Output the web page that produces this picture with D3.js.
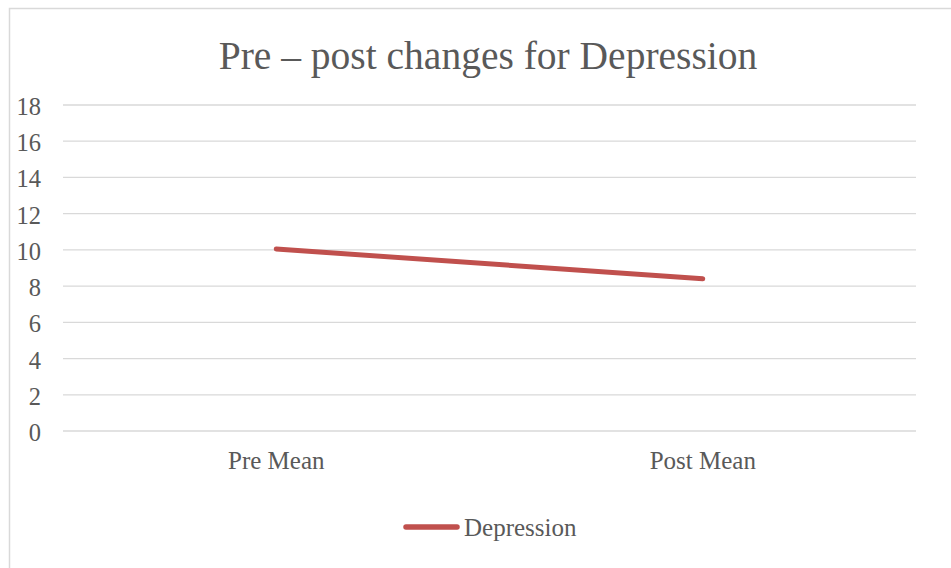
<!DOCTYPE html>
<html>
<head>
<meta charset="utf-8">
<script src="https://cdn.jsdelivr.net/npm/d3@7/dist/d3.min.js"></script>
<style>
  html, body { margin: 0; padding: 0; background: #fff; }
  svg { display: block; }
  text { font-family: "Liberation Serif", "Times New Roman", serif; fill: #595959; }
</style>
</head>
<body>
<svg id="chart" width="951" height="568"></svg>
<script>
const categories = ["Pre Mean", "Post Mean"];
const seriesName = "Depression";
const depression = [10.05, 8.4];
const yTicks = [0, 2, 4, 6, 8, 10, 12, 14, 16, 18];
const titleText = "Pre \u2013 post changes for Depression";

const W = 951, H = 568;
const FONT = '"Liberation Serif", "Times New Roman", serif';
const svg = d3.select("#chart");

// chart border (Excel chart area)
svg.append("path")
  .attr("d", `M9.5,${H} V8.5 H${W}`)
  .attr("fill", "none").attr("stroke", "#d9d9d9").attr("stroke-width", 1.5);

const plot = { left: 63, right: 916, top: 105, bottom: 431 };

const x = d3.scaleBand().domain(categories).range([plot.left, plot.right]);
const y = d3.scaleLinear().domain([0, 18]).range([plot.bottom, plot.top]);

// gridlines
svg.append("g").selectAll("line").data(yTicks).join("line")
  .attr("x1", plot.left).attr("x2", plot.right)
  .attr("y1", d => y(d)).attr("y2", d => y(d))
  .attr("stroke", "#d9d9d9").attr("stroke-width", 1.3);

// y axis labels
const yAxis = d3.axisLeft(y).tickValues(yTicks).tickSize(0).tickPadding(0);
const gy = svg.append("g").attr("transform", `translate(41,0)`).call(yAxis);
gy.select(".domain").remove();
gy.selectAll("text").attr("font-size", 24.5).attr("fill", "#595959")
  .attr("dy", 9.5).style("font-family", FONT);

// x axis labels
const xAxis = d3.axisBottom(x).tickSize(0).tickPadding(0);
const gx = svg.append("g").attr("transform", `translate(0,${plot.bottom})`).call(xAxis);
gx.select(".domain").remove();
gx.selectAll("text").attr("font-size", 25).attr("fill", "#595959")
  .attr("y", 38.3).attr("dy", 0).style("font-family", FONT);

// line
const line = d3.line()
  .x((d, i) => x(categories[i]) + x.bandwidth() / 2)
  .y(d => y(d));
svg.append("path").datum(depression)
  .attr("d", line)
  .attr("fill", "none").attr("stroke", "#C0504D")
  .attr("stroke-width", 5).attr("stroke-linecap", "round");

// title
svg.append("text")
  .attr("x", 488).attr("y", 69)
  .attr("text-anchor", "middle")
  .attr("font-size", 39.5)
  .text(titleText);

// legend
svg.append("line")
  .attr("x1", 406).attr("x2", 457).attr("y1", 527).attr("y2", 527)
  .attr("stroke", "#C0504D").attr("stroke-width", 5.5).attr("stroke-linecap", "round");
svg.append("text")
  .attr("x", 464).attr("y", 535.5)
  .attr("font-size", 25)
  .text(seriesName);
</script>
</body>
</html>
